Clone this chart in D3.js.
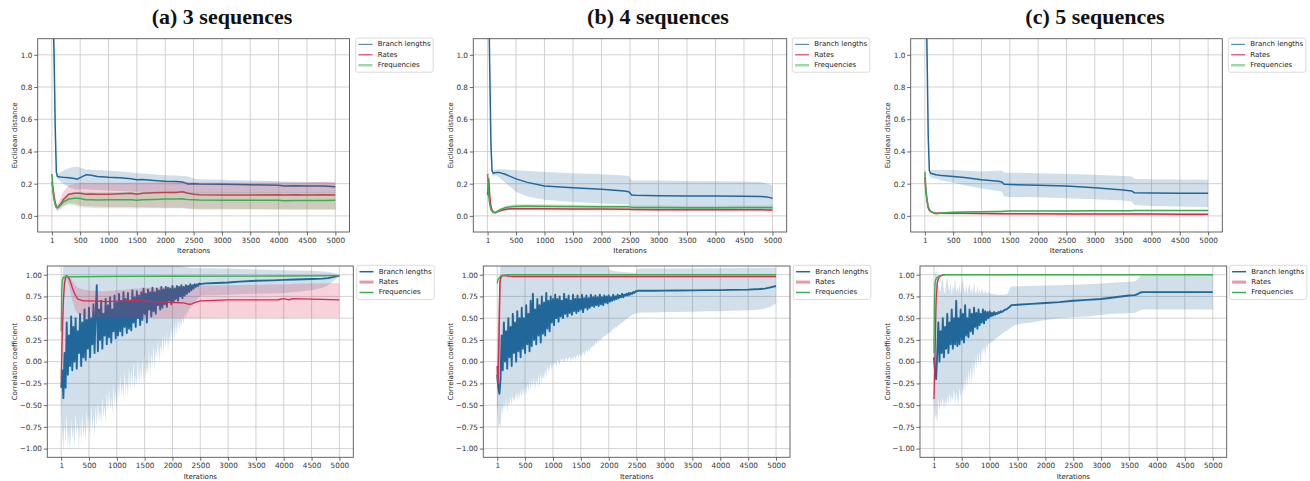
<!DOCTYPE html>
<html><head><meta charset="utf-8">
<script src="https://cdn.jsdelivr.net/npm/d3@7"></script>
<style>body{margin:0;background:#fff;}svg{display:block;}</style>
</head><body>
<svg id="chart" width="1310" height="481"></svg>
<script>
// ---------- shared labels / ticks ----------
const panelTitles = ["(a) 3 sequences", "(b) 4 sequences", "(c) 5 sequences"];
const seriesNames = ["Branch lengths", "Rates", "Frequencies"];
const xTickValues = [1, 500, 1000, 1500, 2000, 2500, 3000, 3500, 4000, 4500, 5000];
const distTicks = [0.0, 0.2, 0.4, 0.6, 0.8, 1.0];
const corrTicks = [-1.0, -0.75, -0.5, -0.25, 0.0, 0.25, 0.5, 0.75, 1.0];
const xLabel = "Iterations";
const distLabel = "Euclidean distance";
const corrLabel = "Correlation coefficient";

// ---------- (a) Euclidean distance ----------
const distIterA = [1,20,40,60,80,100,150,200,300,400,450,500,600,700,800,1000,1200,1400,1500,1600,1800,2000,2200,2300,2350,2400,2500,2600,3000,3500,4000,4100,4300,4500,4800,5000];
const distBranchA   = [1.6,1.3,1.0,0.55,0.27,0.245,0.242,0.24,0.237,0.232,0.228,0.238,0.255,0.252,0.245,0.24,0.237,0.23,0.225,0.226,0.22,0.215,0.213,0.21,0.205,0.198,0.2,0.198,0.196,0.193,0.19,0.186,0.187,0.185,0.186,0.181];
const distBranchLoA = [1.4,1.1,0.8,0.45,0.24,0.23,0.215,0.2,0.18,0.165,0.16,0.165,0.165,0.162,0.16,0.158,0.155,0.152,0.15,0.15,0.148,0.147,0.145,0.143,0.14,0.14,0.14,0.14,0.14,0.14,0.14,0.14,0.14,0.14,0.14,0.14];
const distBranchHiA = [1.8,1.5,1.2,0.65,0.3,0.26,0.27,0.28,0.295,0.305,0.305,0.3,0.29,0.287,0.285,0.28,0.275,0.27,0.265,0.263,0.258,0.252,0.25,0.248,0.247,0.245,0.232,0.228,0.225,0.22,0.215,0.213,0.212,0.21,0.21,0.205];
const distRatesA   = [0.21,0.17,0.12,0.08,0.055,0.05,0.07,0.1,0.135,0.14,0.14,0.14,0.135,0.136,0.135,0.135,0.137,0.14,0.135,0.14,0.143,0.145,0.145,0.15,0.145,0.14,0.135,0.132,0.13,0.13,0.132,0.13,0.131,0.13,0.131,0.13];
const distRatesLoA = [0.15,0.12,0.08,0.05,0.035,0.03,0.04,0.06,0.08,0.075,0.07,0.065,0.06,0.058,0.057,0.055,0.055,0.055,0.053,0.053,0.052,0.05,0.05,0.05,0.048,0.045,0.042,0.04,0.04,0.04,0.04,0.04,0.04,0.04,0.04,0.04];
const distRatesHiA = [0.27,0.24,0.17,0.12,0.08,0.07,0.11,0.15,0.19,0.2,0.2,0.205,0.205,0.205,0.205,0.205,0.205,0.207,0.205,0.207,0.208,0.21,0.21,0.215,0.212,0.21,0.21,0.208,0.207,0.207,0.208,0.207,0.208,0.208,0.212,0.21];
const distFreqA   = [0.26,0.15,0.1,0.07,0.055,0.05,0.065,0.085,0.105,0.11,0.11,0.108,0.1,0.1,0.098,0.1,0.1,0.1,0.097,0.1,0.102,0.105,0.105,0.107,0.104,0.102,0.1,0.098,0.097,0.097,0.097,0.094,0.095,0.096,0.096,0.097];
const distFreqLoA = [0.22,0.12,0.08,0.055,0.045,0.04,0.05,0.06,0.07,0.065,0.06,0.055,0.05,0.05,0.048,0.048,0.048,0.048,0.046,0.048,0.048,0.048,0.048,0.048,0.047,0.046,0.045,0.045,0.044,0.043,0.042,0.04,0.04,0.04,0.04,0.04];
const distFreqHiA = [0.28,0.18,0.12,0.09,0.07,0.065,0.08,0.11,0.14,0.15,0.15,0.15,0.148,0.147,0.146,0.147,0.148,0.148,0.146,0.148,0.15,0.152,0.153,0.155,0.152,0.15,0.148,0.147,0.146,0.146,0.146,0.145,0.145,0.146,0.146,0.147];

// ---------- (b) Euclidean distance ----------
const distIterB = [1,20,40,60,80,100,130,160,200,300,400,500,700,1000,1500,2000,2400,2480,2530,2600,3000,3500,4000,4500,4800,4900,5000];
const distBranchB   = [1.7,1.4,0.9,0.45,0.28,0.265,0.268,0.27,0.27,0.26,0.245,0.23,0.208,0.186,0.175,0.165,0.155,0.15,0.13,0.128,0.125,0.123,0.123,0.122,0.12,0.118,0.11];
const distBranchLoB = [1.5,1.2,0.75,0.38,0.25,0.245,0.25,0.25,0.24,0.21,0.18,0.15,0.12,0.1,0.087,0.077,0.072,0.07,0.055,0.05,0.045,0.043,0.042,0.04,0.04,0.04,0.04];
const distBranchHiB = [1.9,1.6,1.05,0.55,0.3,0.28,0.285,0.288,0.29,0.29,0.287,0.283,0.278,0.272,0.265,0.258,0.25,0.248,0.22,0.22,0.22,0.217,0.215,0.213,0.21,0.2,0.19];
const distRatesB   = [0.13,0.23,0.12,0.06,0.035,0.025,0.02,0.023,0.03,0.04,0.044,0.045,0.045,0.044,0.043,0.043,0.042,0.042,0.04,0.04,0.038,0.038,0.038,0.038,0.038,0.037,0.037];
const distRatesLoB = [0.08,0.16,0.09,0.045,0.025,0.017,0.013,0.015,0.022,0.031,0.035,0.036,0.036,0.035,0.034,0.034,0.033,0.033,0.031,0.031,0.03,0.03,0.03,0.03,0.03,0.029,0.029];
const distRatesHiB = [0.2,0.3,0.16,0.08,0.047,0.034,0.028,0.031,0.038,0.049,0.053,0.054,0.054,0.053,0.052,0.052,0.051,0.051,0.049,0.049,0.046,0.046,0.046,0.046,0.046,0.045,0.045];
const distFreqB   = [0.26,0.13,0.07,0.04,0.028,0.022,0.02,0.025,0.035,0.05,0.057,0.06,0.062,0.06,0.058,0.057,0.056,0.056,0.053,0.052,0.052,0.051,0.051,0.052,0.052,0.052,0.052];
const distFreqLoB = [0.22,0.1,0.055,0.03,0.02,0.015,0.014,0.018,0.026,0.04,0.046,0.048,0.05,0.048,0.046,0.045,0.044,0.044,0.041,0.04,0.04,0.039,0.039,0.04,0.04,0.04,0.04];
const distFreqHiB = [0.3,0.16,0.085,0.05,0.036,0.029,0.026,0.032,0.044,0.06,0.068,0.072,0.074,0.072,0.07,0.069,0.068,0.068,0.065,0.064,0.064,0.063,0.063,0.064,0.064,0.064,0.064];

// ---------- (c) Euclidean distance ----------
const distIterC = [1,20,40,60,80,100,150,200,300,500,700,1000,1300,1360,1400,1500,2000,2500,3000,3500,3650,3700,4000,4500,5000];
const distBranchC   = [1.7,1.4,1.0,0.5,0.28,0.265,0.26,0.255,0.25,0.245,0.238,0.225,0.215,0.21,0.196,0.195,0.19,0.185,0.175,0.16,0.155,0.143,0.142,0.14,0.14];
const distBranchLoC = [1.5,1.2,0.85,0.42,0.25,0.24,0.235,0.23,0.22,0.205,0.19,0.17,0.155,0.15,0.12,0.118,0.115,0.11,0.103,0.095,0.09,0.067,0.062,0.058,0.055];
const distBranchHiC = [1.9,1.6,1.15,0.6,0.3,0.285,0.285,0.285,0.285,0.285,0.28,0.275,0.28,0.28,0.27,0.268,0.265,0.26,0.255,0.248,0.245,0.23,0.228,0.226,0.225];
const distRatesC   = [0.24,0.15,0.09,0.05,0.035,0.028,0.02,0.018,0.017,0.016,0.016,0.015,0.014,0.014,0.013,0.013,0.013,0.012,0.012,0.012,0.012,0.011,0.011,0.01,0.01];
const distRatesLoC = [0.2,0.12,0.07,0.038,0.026,0.02,0.013,0.011,0.01,0.009,0.009,0.008,0.007,0.007,0.006,0.006,0.006,0.005,0.005,0.005,0.005,0.004,0.004,0.003,0.003];
const distRatesHiC = [0.28,0.18,0.11,0.062,0.044,0.036,0.027,0.025,0.024,0.023,0.023,0.022,0.021,0.021,0.02,0.02,0.02,0.019,0.019,0.019,0.019,0.018,0.018,0.017,0.017];
const distFreqC   = [0.275,0.16,0.1,0.06,0.04,0.03,0.018,0.013,0.018,0.022,0.024,0.026,0.028,0.028,0.029,0.03,0.03,0.031,0.032,0.032,0.032,0.033,0.033,0.033,0.033];
const distFreqLoC = [0.24,0.13,0.08,0.048,0.032,0.024,0.013,0.009,0.013,0.017,0.019,0.021,0.023,0.023,0.024,0.025,0.025,0.026,0.027,0.027,0.027,0.028,0.028,0.028,0.028];
const distFreqHiC = [0.31,0.19,0.12,0.072,0.048,0.036,0.023,0.017,0.023,0.027,0.029,0.031,0.033,0.033,0.034,0.035,0.035,0.036,0.037,0.037,0.037,0.038,0.038,0.038,0.038];

// ---------- Correlation: branch lengths (dense, noisy) for (a) and (b) ----------
const corrIterAB = [1,20,
 40,60,80,100,120,140,160,180,200,220,
 240,260,280,300,320,340,360,380,400,420,
 440,460,480,500,520,540,560,580,600,620,
 640,660,680,700,720,740,760,780,800,820,
 840,860,880,900,920,940,960,980,1000,1020,
 1040,1060,1080,1100,1120,1140,1160,1180,1200,1220,
 1240,1260,1280,1300,1320,1340,1360,1380,1400,1420,
 1440,1460,1480,1500,1520,1540,1560,1580,1600,1620,
 1640,1660,1680,1700,1720,1740,1760,1780,1800,1820,
 1840,1860,1880,1900,1920,1940,1960,1980,2000,2020,
 2040,2060,2080,2100,2120,2140,2160,2180,2200,2220,
 2240,2260,2280,2300,2320,2340,2360,2380,2400,2420,
 2440,2460,2480,2500,2520,
 2600,2800,3000,3200,3500,3800,4000,4200,4500,4700,4800,4900,5000];

const corrBranchA = [-0.3,-0.1,
 -0.42,0.1,-0.3,0.45,-0.15,0.3,-0.05,0.52,-0.1,0.4,
 0.0,0.5,-0.08,0.35,0.1,0.55,-0.05,0.45,0.05,0.6,
 0.02,0.48,0.15,0.62,0.05,0.5,0.2,0.66,0.1,0.55,
 0.88,0.12,0.6,0.25,0.7,0.15,0.55,0.3,0.72,0.2,
 0.65,0.28,0.74,0.22,0.6,0.35,0.76,0.27,0.68,0.3,
 0.78,0.35,0.7,0.3,0.8,0.4,0.72,0.33,0.79,0.38,
 0.7,0.36,0.82,0.45,0.74,0.4,0.81,0.5,0.76,0.42,
 0.8,0.48,0.84,0.55,0.78,0.45,0.83,0.6,0.8,0.52,
 0.85,0.58,0.8,0.55,0.84,0.65,0.82,0.6,0.86,0.62,
 0.83,0.66,0.86,0.63,0.85,0.7,0.84,0.66,0.87,0.69,
 0.84,0.72,0.87,0.7,0.86,0.75,0.88,0.73,0.86,0.76,
 0.88,0.78,0.87,0.8,0.89,0.82,0.88,0.84,0.89,0.86,
 0.89,0.87,0.9,0.89,0.895,
 0.9,0.905,0.91,0.92,0.93,0.935,0.94,0.945,0.95,0.955,0.96,0.975,0.99];
const corrBranchLoA = [-0.5,-0.8,
 -1.05,-0.7,-0.95,-0.6,-1.0,-0.8,-1.05,-0.65,-0.9,-0.75,
 -1.0,-0.6,-0.85,-0.7,-1.02,-0.65,-0.95,-0.6,-0.88,-0.7,
 -0.92,-0.55,-0.8,-0.6,-0.9,-0.5,-0.78,-0.62,-0.85,-0.5,
 -0.75,-0.45,-0.7,-0.55,-0.72,-0.4,-0.65,-0.5,-0.7,-0.35,
 -0.6,-0.3,-0.55,-0.4,-0.6,-0.25,-0.5,-0.35,-0.55,-0.2,
 -0.45,-0.15,-0.4,-0.25,-0.45,-0.1,-0.38,-0.2,-0.4,-0.05,
 -0.35,-0.1,-0.3,0.0,-0.32,-0.15,-0.28,0.05,-0.3,-0.05,
 -0.26,0.05,-0.28,0.1,-0.2,-0.05,-0.15,0.15,-0.2,0.1,
 -0.05,0.2,-0.1,0.15,0.05,0.25,-0.02,0.2,0.08,0.3,
 0.1,0.3,0.15,0.35,0.12,0.3,0.22,0.4,0.2,0.42,
 0.25,0.45,0.3,0.5,0.35,0.48,0.4,0.52,0.43,0.55,
 0.5,0.58,0.55,0.62,0.6,0.65,0.63,0.68,0.66,0.7,
 0.72,0.73,0.74,0.75,0.76,
 0.76,0.765,0.77,0.775,0.78,0.785,0.79,0.8,0.82,0.85,0.88,0.93,0.985];
const corrBranchHiIterA = [1,20,40,2000,2040,2100,2200,2300,2500,2600,3000,3500,4000,4500,4800,4900,5000];
const corrBranchHiA     = [0.2,0.9,1.15,1.15,1.12,1.1,1.09,1.08,1.075,1.075,1.07,1.06,1.05,1.045,1.035,1.02,1.0];

const corrBranchB = [-0.15,-0.3,
 -0.37,-0.2,0.3,-0.1,0.45,0.0,0.35,-0.08,0.5,0.05,
 0.4,-0.05,0.55,0.1,0.45,0.0,0.58,0.12,0.5,0.05,
 0.62,0.15,0.5,0.1,0.65,0.2,0.55,0.12,0.7,0.18,
 0.78,0.25,0.6,0.2,0.72,0.3,0.65,0.22,0.75,0.32,
 0.68,0.3,0.79,0.38,0.7,0.35,0.75,0.45,0.72,0.42,
 0.77,0.5,0.72,0.46,0.75,0.52,0.7,0.5,0.78,0.55,
 0.72,0.52,0.76,0.56,0.7,0.54,0.77,0.58,0.72,0.56,
 0.76,0.58,0.72,0.6,0.77,0.57,0.73,0.62,0.76,0.6,
 0.73,0.62,0.77,0.64,0.74,0.63,0.76,0.65,0.74,0.64,
 0.77,0.66,0.74,0.65,0.76,0.68,0.75,0.67,0.76,0.69,
 0.74,0.7,0.77,0.71,0.75,0.72,0.77,0.73,0.76,0.74,
 0.78,0.74,0.77,0.76,0.78,0.76,0.79,0.77,0.79,0.78,
 0.8,0.79,0.81,0.81,0.815,
 0.815,0.815,0.817,0.818,0.82,0.822,0.823,0.825,0.828,0.835,0.84,0.855,0.87];
const corrBranchLoB = [-0.5,-0.77,
 -0.7,-0.77,-0.5,-0.6,-0.45,-0.55,-0.42,-0.58,-0.45,-0.52,
 -0.4,-0.5,-0.38,-0.47,-0.42,-0.36,-0.45,-0.35,-0.43,-0.33,
 -0.42,-0.3,-0.4,-0.28,-0.38,-0.25,-0.35,-0.22,-0.33,-0.2,
 -0.3,-0.18,-0.32,-0.2,-0.28,-0.15,-0.3,-0.12,-0.25,-0.15,
 -0.2,-0.1,-0.18,-0.05,-0.12,-0.08,-0.02,-0.1,0.0,-0.05,
 0.02,-0.06,0.03,0.0,-0.04,0.04,0.0,0.05,-0.02,0.03,
 0.05,0.0,0.04,0.06,0.0,0.05,0.02,0.07,0.03,0.06,
 0.08,0.04,0.1,0.06,0.08,0.12,0.07,0.1,0.14,0.1,
 0.15,0.12,0.18,0.15,0.2,0.17,0.22,0.2,0.25,0.22,
 0.26,0.24,0.28,0.27,0.3,0.29,0.32,0.31,0.34,0.33,
 0.35,0.36,0.38,0.37,0.4,0.39,0.41,0.42,0.43,0.44,
 0.45,0.46,0.47,0.48,0.49,0.5,0.51,0.52,0.53,0.54,
 0.54,0.55,0.55,0.56,0.56,
 0.565,0.565,0.57,0.57,0.575,0.58,0.58,0.585,0.59,0.6,0.61,0.63,0.67];
const corrBranchHiIterB = [1,20,40,60,1980,2000,2100,2480,2520,3000,4000,5000];
const corrBranchHiB     = [0.2,0.5,0.9,1.15,1.15,1.06,1.04,1.02,1.07,1.072,1.075,1.08];

// ---------- Correlation: branch lengths for (c) ----------
const corrIterC = [1,20,
 40,60,80,100,120,140,160,180,200,220,
 240,260,280,300,320,340,360,380,400,420,
 440,460,480,500,520,540,560,580,600,620,
 640,660,680,700,720,740,760,780,800,820,
 840,860,880,900,920,940,960,980,1000,1020,
 1040,1060,1080,1100,1120,1140,1160,1180,1200,1220,
 1240,1260,1280,1300,1320,1340,1360,1380,1400,
 1500,1750,2000,2250,2500,2750,3000,3250,3500,3600,3650,3700,3750,4000,4500,5000];
const corrBranchC = [0.05,-0.1,
 -0.2,0.1,0.45,0.0,0.35,0.1,0.5,0.05,0.4,0.15,
 0.55,0.1,0.45,0.2,0.6,0.15,0.5,0.2,0.7,0.18,
 0.5,0.2,0.6,0.25,0.55,0.22,0.65,0.3,0.5,0.28,
 0.6,0.35,0.55,0.32,0.62,0.4,0.56,0.38,0.6,0.42,
 0.55,0.45,0.6,0.44,0.58,0.48,0.57,0.5,0.58,0.52,
 0.56,0.53,0.57,0.54,0.56,0.55,0.57,0.56,0.58,0.57,
 0.58,0.59,0.6,0.6,0.61,0.62,0.63,0.645,0.65,
 0.655,0.665,0.675,0.685,0.7,0.71,0.72,0.74,0.76,0.765,0.775,0.795,0.8,0.8,0.8,0.8];
const corrBranchLoC = [-0.3,-0.65,
 -0.6,-0.73,-0.42,-0.57,-0.45,-0.52,-0.4,-0.55,-0.45,-0.5,
 -0.4,-0.5,-0.35,-0.48,-0.38,-0.45,-0.3,-0.5,-0.35,-0.42,
 -0.5,-0.3,-0.42,-0.25,-0.38,-0.2,-0.35,-0.15,-0.3,-0.1,
 -0.25,-0.05,-0.27,0.0,-0.2,0.05,-0.1,0.1,-0.05,0.12,
 -0.07,0.15,0.1,0.18,0.05,0.2,0.15,0.22,0.2,0.23,
 0.22,0.24,0.25,0.26,0.27,0.28,0.29,0.3,0.31,0.32,
 0.33,0.34,0.35,0.35,0.36,0.37,0.38,0.39,0.4,
 0.43,0.45,0.48,0.5,0.51,0.52,0.54,0.55,0.56,0.56,0.57,0.59,0.6,0.6,0.6,0.6];
const corrBranchHiC = [0.4,1.0,
 1.06,0.95,0.9,0.82,0.8,0.92,0.95,0.8,0.78,0.9,
 0.98,0.85,0.8,0.92,0.76,0.88,0.82,0.97,0.8,0.85,
 0.8,0.9,0.77,0.88,0.96,0.82,0.78,0.9,0.77,0.85,
 0.9,0.78,0.86,0.77,0.92,0.8,0.78,0.88,0.77,0.84,
 0.77,0.85,0.8,0.78,0.82,0.79,0.78,0.8,0.78,0.78,
 0.78,0.775,0.775,0.775,0.77,0.77,0.77,0.77,0.77,0.77,
 0.77,0.77,0.775,0.775,0.78,0.8,0.84,0.86,0.865,
 0.868,0.87,0.875,0.88,0.885,0.89,0.9,0.91,0.92,0.925,0.94,0.985,0.99,0.99,0.99,0.995];

// ---------- Correlation: rates ----------
const corrRatesIterA = [1,20,40,60,80,100,150,200,250,300,400,500,700,800,1000,1200,1300,1400,1450,1500,1600,1800,2000,2200,2300,2350,2400,2500,3000,3500,3900,4000,4050,4100,4150,4500,5000];
const corrRatesA   = [-0.2,0.3,0.7,0.9,0.97,0.99,0.95,0.85,0.77,0.72,0.7,0.7,0.695,0.69,0.695,0.7,0.71,0.7,0.72,0.7,0.69,0.685,0.68,0.675,0.66,0.665,0.68,0.7,0.71,0.71,0.712,0.725,0.715,0.71,0.725,0.72,0.71];
const corrRatesLoA = [-0.5,0.0,0.45,0.75,0.9,0.95,0.85,0.7,0.6,0.55,0.52,0.51,0.51,0.51,0.51,0.51,0.51,0.51,0.51,0.51,0.505,0.505,0.505,0.505,0.5,0.5,0.5,0.5,0.505,0.505,0.505,0.5,0.5,0.505,0.505,0.505,0.505];
const corrRatesHiA = [0.15,0.6,0.9,0.99,1.0,1.0,0.98,0.93,0.88,0.85,0.83,0.82,0.81,0.81,0.82,0.83,0.84,0.84,0.85,0.85,0.85,0.855,0.86,0.865,0.865,0.87,0.87,0.875,0.88,0.885,0.89,0.89,0.89,0.89,0.895,0.9,0.905];
const corrRatesIterB = [1,10,20,30,40,50,60,80,100,150,200,300,500,1000,2000,3000,4000,5000];
const corrRatesB   = [-0.05,-0.25,-0.15,0.2,0.6,0.9,0.96,0.985,0.99,0.99,0.985,0.98,0.98,0.98,0.98,0.98,0.98,0.98];
const corrRatesLoB = [-0.5,-0.55,-0.4,-0.1,0.35,0.8,0.92,0.97,0.975,0.975,0.97,0.97,0.97,0.97,0.97,0.97,0.97,0.97];
const corrRatesHiB = [0.1,0.05,0.1,0.5,0.85,0.98,1.0,1.0,1.0,1.0,0.995,0.99,0.99,0.99,0.99,0.99,0.99,0.99];
const corrRatesIterC = [1,10,20,30,40,60,80,100,150,200,5000];
const corrRatesC   = [-0.43,-0.2,0.05,0.4,0.7,0.9,0.95,0.98,0.995,1.0,1.0];
const corrRatesLoC = [-0.75,-0.5,-0.2,0.2,0.55,0.85,0.92,0.96,0.99,0.995,0.995];
const corrRatesHiC = [-0.1,0.1,0.3,0.6,0.85,0.95,0.98,0.995,1.0,1.0,1.0];

// ---------- Correlation: frequencies ----------
const corrFreqIterA = [1,10,20,30,50,100,500,1000,2000,3000,4000,5000];
const corrFreqA   = [0.35,0.8,0.93,0.96,0.97,0.975,0.978,0.98,0.982,0.983,0.985,0.99];
const corrFreqLoA = [0.1,0.65,0.88,0.93,0.955,0.965,0.97,0.972,0.975,0.976,0.978,0.985];
const corrFreqHiA = [0.6,0.95,0.98,0.99,0.99,0.985,0.985,0.988,0.99,0.99,0.992,0.995];
const corrFreqIterB = [1,10,20,40,60,100,150,200,500,1000,5000];
const corrFreqB   = [0.9,0.93,0.95,0.97,0.98,0.99,0.995,1.0,1.0,1.0,1.0];
const corrFreqLoB = [0.85,0.9,0.93,0.955,0.97,0.985,0.99,0.995,0.995,0.995,0.995];
const corrFreqHiB = [0.95,0.96,0.97,0.985,0.99,0.995,1.0,1.0,1.0,1.0,1.0];
const corrFreqIterC = [1,10,20,30,50,80,120,200,500,5000];
const corrFreqC   = [0.1,0.7,0.9,0.94,0.96,0.98,0.99,1.0,1.0,1.0];
const corrFreqLoC = [-0.05,0.55,0.85,0.91,0.94,0.97,0.985,0.995,0.995,0.995];
const corrFreqHiC = [0.3,0.85,0.95,0.97,0.98,0.99,0.995,1.0,1.0,1.0];

// ---------- drawing ----------
const COLORS = ["#21679a", "#d92a52", "#3cae50"];
const FONT = "DejaVu Sans";
const GRID = "#c6c6c6";
const svg = d3.select("#chart");

function mk(iter, mean, lo, hi, ci, width, hiIter) {
  return {iter, mean, lo, hi, hiIter: hiIter || iter, color: COLORS[ci], width};
}

function drawPanel(p) {
  const x = d3.scaleLinear().domain([-249, 5250]).range([p.left, p.right]);
  const y = d3.scaleLinear().domain(p.yDomain).range([p.bottom, p.top]);
  const g = svg.append("g");
  const cid = "clip-" + p.id;
  g.append("clipPath").attr("id", cid).append("rect")
    .attr("x", p.left).attr("y", p.top).attr("width", p.right - p.left).attr("height", p.bottom - p.top);

  g.append("g").selectAll("line").data(xTickValues).join("line")
    .attr("x1", d => x(d)).attr("x2", d => x(d)).attr("y1", p.top).attr("y2", p.bottom)
    .attr("stroke", GRID).attr("stroke-width", 0.8);
  g.append("g").selectAll("line").data(p.yTicks).join("line")
    .attr("y1", d => y(d)).attr("y2", d => y(d)).attr("x1", p.left).attr("x2", p.right)
    .attr("stroke", GRID).attr("stroke-width", 0.8);

  const plot = g.append("g").attr("clip-path", `url(#${cid})`);
  const line = d3.line().x(d => x(d[0])).y(d => y(d[1]));
  p.series.forEach(s => {
    const upper = s.hiIter.map((t, i) => [t, s.hi[i]]).filter(d => d[1] !== undefined);
    const lower = s.iter.map((t, i) => [t, s.lo[i]]).filter(d => d[1] !== undefined).reverse();
    plot.append("path").attr("d", line(upper.concat(lower)) + "Z")
      .attr("fill", s.color).attr("fill-opacity", 0.21).attr("stroke", "none");
    const mean = s.iter.map((t, i) => [t, s.mean[i]]).filter(d => d[1] !== undefined);
    plot.append("path").attr("d", line(mean))
      .attr("fill", "none").attr("stroke", s.color).attr("stroke-width", s.width)
      .attr("stroke-linejoin", "round");
  });

  const gx = g.append("g").attr("transform", `translate(0,${p.bottom})`)
    .call(d3.axisBottom(x).tickValues(xTickValues).tickFormat(d3.format("d")).tickSize(3.5).tickPadding(2));
  const gy = g.append("g").attr("transform", `translate(${p.left},0)`)
    .call(d3.axisLeft(y).tickValues(p.yTicks).tickFormat(p.fmt).tickSize(3.5).tickPadding(1.8));
  [gx, gy].forEach(a => {
    a.select(".domain").remove();
    a.selectAll("text").attr("font-family", FONT).attr("font-size", 7.3).attr("fill", "#333");
    a.selectAll("line").attr("stroke", "#444").attr("stroke-width", 0.8);
  });

  g.append("rect").attr("x", p.left).attr("y", p.top)
    .attr("width", p.right - p.left).attr("height", p.bottom - p.top)
    .attr("fill", "none").attr("stroke", "#555").attr("stroke-width", 0.9);

  g.append("text").attr("x", (p.left + p.right) / 2).attr("y", p.bottom + 21.3)
    .attr("text-anchor", "middle").attr("font-family", FONT).attr("font-size", 7)
    .attr("fill", "#222").text(xLabel);
  g.append("text")
    .attr("transform", `translate(${p.ylabX},${(p.top + p.bottom) / 2}) rotate(-90)`)
    .attr("text-anchor", "middle").attr("dominant-baseline", "central")
    .attr("font-family", FONT).attr("font-size", 7).attr("fill", "#222").text(p.ylabel);

  const lg = g.append("g").attr("transform", `translate(${p.legX},${p.top - 0.7})`);
  lg.append("rect").attr("width", 77.5).attr("height", 34.2).attr("rx", 2)
    .attr("fill", "#fff").attr("stroke", "#d2d2d2").attr("stroke-width", 0.8);
  seriesNames.forEach((name, i) => {
    const yy = 6.4 + i * 10.4;
    const st = p.legStyle[i];
    lg.append("line").attr("x1", 2.8).attr("x2", 16.8).attr("y1", yy).attr("y2", yy)
      .attr("stroke", COLORS[i]).attr("stroke-width", st[0]).attr("stroke-opacity", st[1]);
    lg.append("text").attr("x", 22).attr("y", yy).attr("dominant-baseline", "central")
      .attr("font-family", FONT).attr("font-size", 7).attr("fill", "#222").text(name);
  });
}

const fmtDist = d3.format(".1f");
const fmtCorr = d3.format(".2f");
const topLegend = [[1.2, 0.75], [1.2, 0.9], [2.4, 0.5]];
const botLegend = [[1.5, 1], [3, 0.5], [1.5, 1]];

const topY = {top: 38.7, bottom: 232, yDomain: [-0.1, 1.1], yTicks: distTicks, fmt: fmtDist, ylabel: distLabel, legStyle: topLegend};
const botY = {top: 266, bottom: 457.3, yDomain: [-1.1, 1.1], yTicks: corrTicks, fmt: fmtCorr, ylabel: corrLabel, legStyle: botLegend};

const panels = [
  Object.assign({id: "at", left: 37.7, right: 349.5, ylabX: 15, legX: 355.7, series: [
    mk(distIterA, distBranchA, distBranchLoA, distBranchHiA, 0, 1.5),
    mk(distIterA, distRatesA, distRatesLoA, distRatesHiA, 1, 1.5),
    mk(distIterA, distFreqA, distFreqLoA, distFreqHiA, 2, 1.5)]}, topY),
  Object.assign({id: "bt", left: 473.3, right: 786.7, ylabX: 451, legX: 792.3, series: [
    mk(distIterB, distBranchB, distBranchLoB, distBranchHiB, 0, 1.5),
    mk(distIterB, distRatesB, distRatesLoB, distRatesHiB, 1, 1.5),
    mk(distIterB, distFreqB, distFreqLoB, distFreqHiB, 2, 1.5)]}, topY),
  Object.assign({id: "ct", left: 910.7, right: 1222.3, ylabX: 888.3, legX: 1228.3, series: [
    mk(distIterC, distBranchC, distBranchLoC, distBranchHiC, 0, 1.5),
    mk(distIterC, distRatesC, distRatesLoC, distRatesHiC, 1, 1.5),
    mk(distIterC, distFreqC, distFreqLoC, distFreqHiC, 2, 1.5)]}, topY),
  Object.assign({id: "ab", left: 47.3, right: 353.3, ylabX: 15, legX: 356.7, series: [
    mk(corrIterAB, corrBranchA, corrBranchLoA, corrBranchHiA, 0, 1.9, corrBranchHiIterA),
    mk(corrRatesIterA, corrRatesA, corrRatesLoA, corrRatesHiA, 1, 1.3),
    mk(corrFreqIterA, corrFreqA, corrFreqLoA, corrFreqHiA, 2, 1.3)]}, botY),
  Object.assign({id: "bb", left: 483.3, right: 790, ylabX: 451, legX: 793.3, series: [
    mk(corrIterAB, corrBranchB, corrBranchLoB, corrBranchHiB, 0, 1.9, corrBranchHiIterB),
    mk(corrRatesIterB, corrRatesB, corrRatesLoB, corrRatesHiB, 1, 1.6),
    mk(corrFreqIterB, corrFreqB, corrFreqLoB, corrFreqHiB, 2, 1.3)]}, botY),
  Object.assign({id: "cb", left: 920, right: 1226.7, ylabX: 888.3, legX: 1229.3, series: [
    mk(corrIterC, corrBranchC, corrBranchLoC, corrBranchHiC, 0, 1.9),
    mk(corrRatesIterC, corrRatesC, corrRatesLoC, corrRatesHiC, 1, 1.3),
    mk(corrFreqIterC, corrFreqC, corrFreqLoC, corrFreqHiC, 2, 1.3)]}, botY)
];
panels.forEach(drawPanel);

const titleX = [222, 658, 1095];
panelTitles.forEach((t, i) => {
  svg.append("text").attr("x", titleX[i]).attr("y", 24.3).attr("text-anchor", "middle")
    .attr("font-family", "Liberation Serif").attr("font-weight", "bold").attr("font-size", 22)
    .attr("fill", "#111").text(t);
});
</script>
</body></html>
